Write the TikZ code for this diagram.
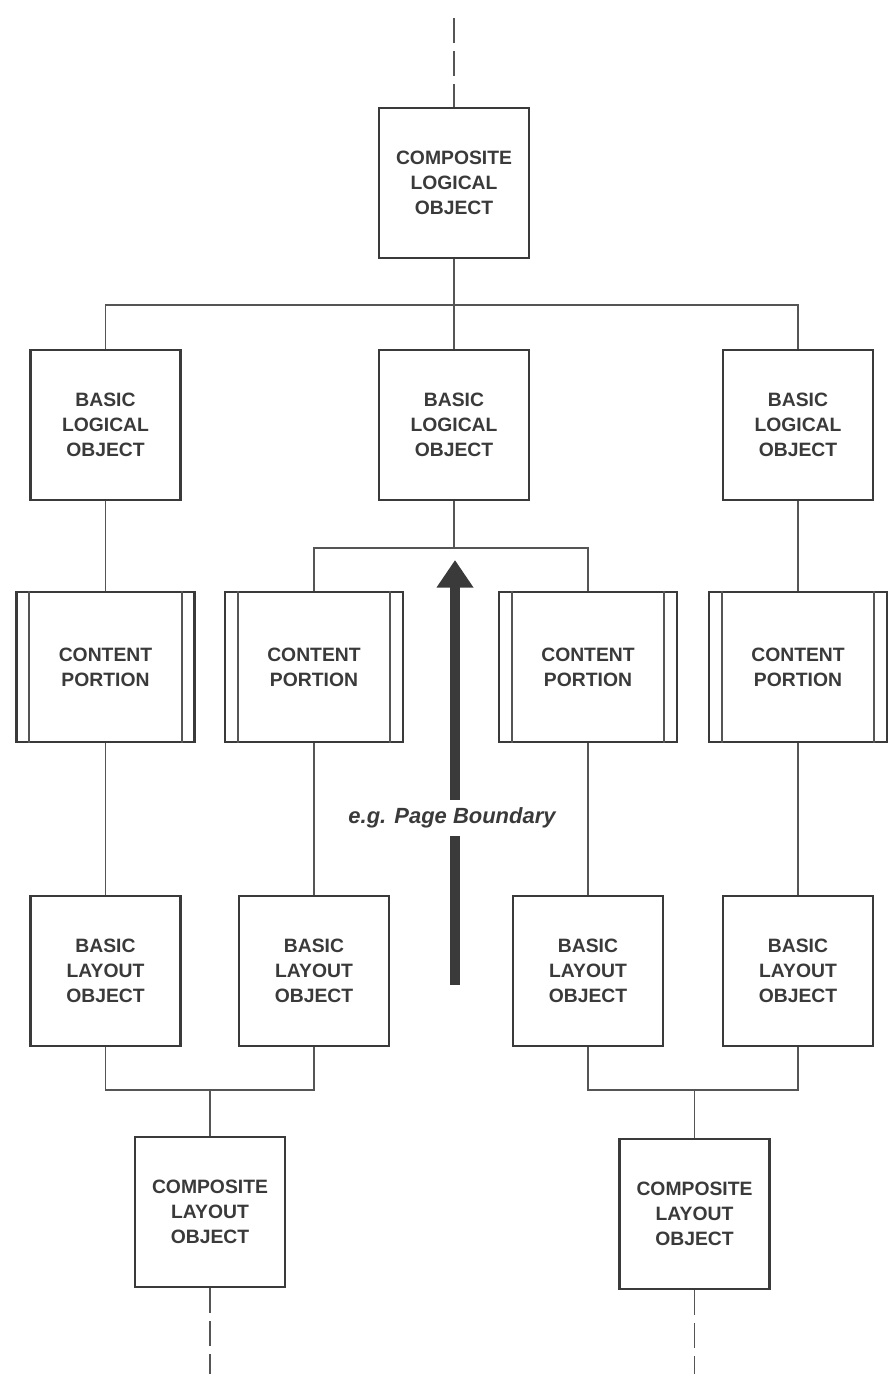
\documentclass[tikz,border=0pt]{standalone}
\usepackage{fontspec}
\setmainfont{Liberation Sans}
\usepackage{tikz}
\usetikzlibrary{arrows.meta,positioning,calc}
\definecolor{inkgray}{HTML}{3A3A3A}
\definecolor{linegray}{HTML}{555555}

\begin{document}
\begin{tikzpicture}[
  obj/.style={draw=inkgray, line width=1.6pt, minimum width=3cm,
              minimum height=3cm, align=center, inner sep=0pt,
              font=\fontsize{11}{14.2}\selectfont\bfseries, text=inkgray},
  cpart/.style={obj, minimum width=3.56cm},
  link/.style={draw=linegray, line width=1.1pt},
  cont/.style={link, dash pattern=on 0.5cm off 0.16cm},
  bigarr/.style={line width=0.2cm, inkgray},
  note/.style={font=\fontsize{12.5}{14}\selectfont\bfseries\itshape, text=inkgray,
               inner sep=2pt, minimum height=0.72cm}
]
\useasboundingbox (0,0) rectangle (17.74,-27.48);

% logical structure
\node[obj] (clo) at (9.08,-3.66) {COMPOSITE\\LOGICAL\\OBJECT};
\node[obj] (blo1) at (2.11,-8.5) {BASIC\\LOGICAL\\OBJECT};
\node[obj] (blo2) at (9.08,-8.5) {BASIC\\LOGICAL\\OBJECT};
\node[obj] (blo3) at (15.96,-8.5) {BASIC\\LOGICAL\\OBJECT};

% content portions
\node[cpart] (cp1) at (2.11,-13.34) {CONTENT\\PORTION};
\node[cpart] (cp2) at (6.28,-13.34) {CONTENT\\PORTION};
\node[cpart] (cp3) at (11.76,-13.34) {CONTENT\\PORTION};
\node[cpart] (cp4) at (15.96,-13.34) {CONTENT\\PORTION};
\foreach \c in {cp1,cp2,cp3,cp4} {
  \draw[link] ([xshift=0.28cm]\c.north west) -- ([xshift=0.28cm]\c.south west);
  \draw[link] ([xshift=-0.28cm]\c.north east) -- ([xshift=-0.28cm]\c.south east);
}

% layout structure
\node[obj] (bl1) at (2.11,-19.42) {BASIC\\LAYOUT\\OBJECT};
\node[obj] (bl2) at (6.28,-19.42) {BASIC\\LAYOUT\\OBJECT};
\node[obj] (bl3) at (11.76,-19.42) {BASIC\\LAYOUT\\OBJECT};
\node[obj] (bl4) at (15.96,-19.42) {BASIC\\LAYOUT\\OBJECT};
\node[obj] (cl1) at (4.2,-24.24) {COMPOSITE\\LAYOUT\\OBJECT};
\node[obj] (cl2) at (13.89,-24.28) {COMPOSITE\\LAYOUT\\OBJECT};

% junctions and loose ends
\coordinate (ltop) at (9.08,-6.1);
\coordinate (lmid) at (9.08,-10.96);
\coordinate (lbot1) at (4.2,-21.8);
\coordinate (lbot2) at (13.89,-21.8);
\coordinate (up) at (9.08,-0.36);
\coordinate (down1) at (4.2,-27.48);
\coordinate (down2) at (13.89,-27.48);

\draw[cont] (up) -- (clo.north);
\draw[link] (clo.south) -- (ltop);
\draw[link] (blo1.north) |- (ltop) -| (blo3.north);
\draw[link] (ltop) -- (blo2.north);
\draw[link] (blo2.south) -- (lmid);
\draw[link] (cp2.north) |- (lmid) -| (cp3.north);
\draw[link] (blo1.south) -- (cp1.north);
\draw[link] (blo3.south) -- (cp4.north);
\foreach \i in {1,2,3,4}
  \draw[link] (cp\i.south) -- (bl\i.north);
\draw[link] (bl1.south) |- (lbot1) -| (bl2.south);
\draw[link] (bl3.south) |- (lbot2) -| (bl4.south);
\draw[link] (lbot1) -- (cl1.north);
\draw[link] (lbot2) -- (cl2.north);
\draw[cont] (cl1.south) -- (down1);
\draw[cont] (cl2.south) -- (down2);

% boundary arrow
\node[note] (pb) at (9.04,-16.36) {e.g. Page Boundary};
\coordinate (pbtip) at (9.1,-11.2);
\coordinate (pbtail) at (9.1,-19.7);
\draw[bigarr, -{Triangle[length=0.55cm, width=0.7cm]}] (pb.north -| pbtip) -- (pbtip);
\draw[bigarr] (pb.south -| pbtail) -- (pbtail);
\end{tikzpicture}
\end{document}
